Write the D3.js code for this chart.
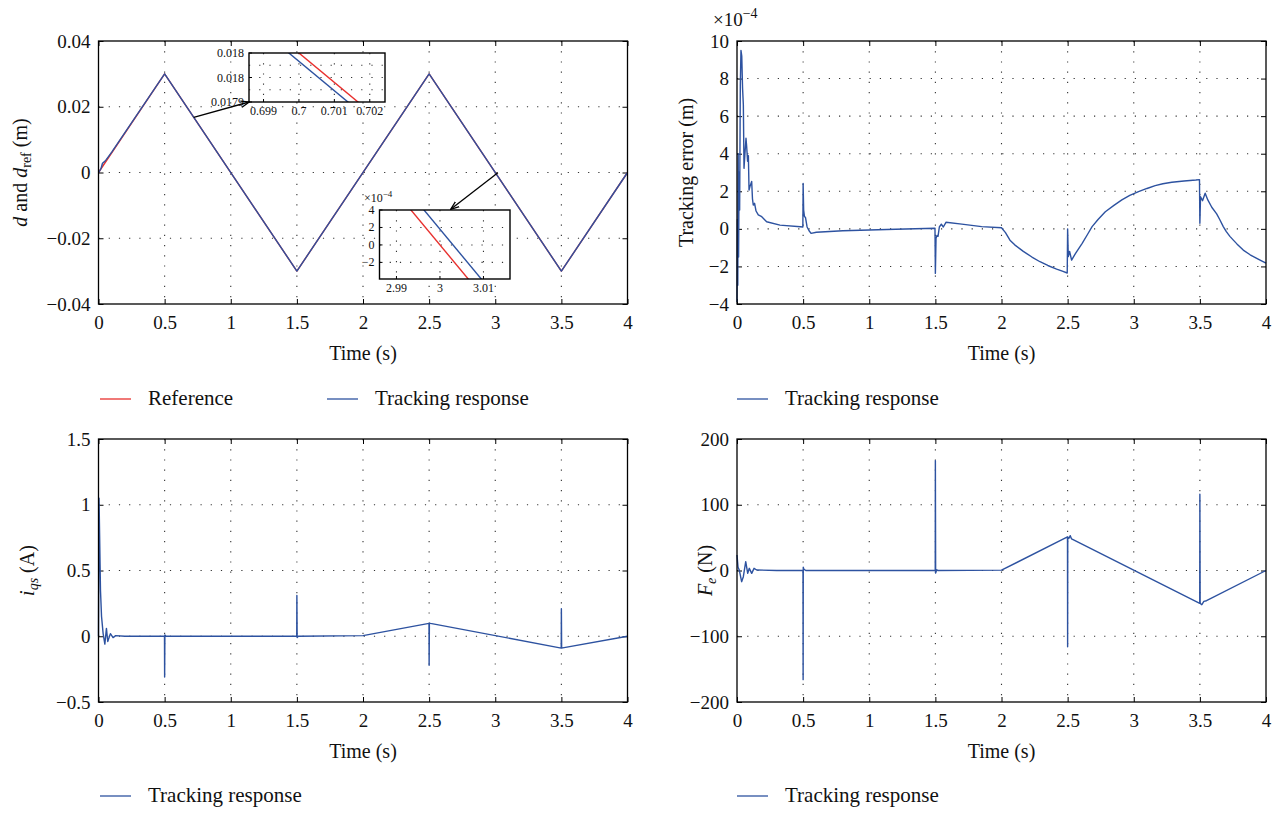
<!DOCTYPE html>
<html><head><meta charset="utf-8">
<script src="https://cdn.jsdelivr.net/npm/d3@7"></script>
<style>
body{margin:0;background:#fff}
text{font-family:"Liberation Serif","Times New Roman",serif;fill:#111}
</style>
</head><body>
<svg id="c" width="1279" height="814"></svg>
<script>
// ---------------- DATA ----------------
const timeTicks = [0, 0.5, 1, 1.5, 2, 2.5, 3, 3.5, 4];

// panel a: reference and tracking displacement (m)
const refT = [0, 0.5, 1.5, 2.5, 3.5, 4];
const refD = [0, 0.03, -0.03, 0.03, -0.03, 0];
const trkT = [0, 0.01, 0.02, 0.03, 0.045, 0.06, 0.1, 0.5, 1.5, 2.5, 3.5, 4];
const trkD = [0, 0.0006, 0.0013, 0.0028, 0.0033, 0.0040, 0.0062, 0.03, -0.03, 0.03, -0.03, 0];
const dTicks = [-0.04, -0.02, 0, 0.02, 0.04];

// inset A (around t = 0.7)
const insAxTicks = [0.699, 0.7, 0.701, 0.702];
const insAxLabels = ["0.699", "0.7", "0.701", "0.702"];
const insAyTicks = [0.0179, 0.01795, 0.018];
const insAyLabels = ["0.0179", "0.018", "0.018"];
const insAyGrid = [0.017925, 0.01795, 0.017975];
const insAT = [0.6985, 0.7025];
const insARef = [0.01809, 0.01785];
const insATrk = [0.018073, 0.017833];

// inset B (around t = 3), values in 1e-4 m
const insBxTicks = [2.99, 3, 3.01];
const insBxLabels = ["2.99", "3", "3.01"];
const insByTicks = [-2, 0, 2, 4];
const insBT = [2.985, 3.015];
const insBRef = [9, -9];
const insBTrk = [10.8, -7.2];

// panel b: tracking error (x 1e-4 m)
const errT = [0, 0.003, 0.006, 0.009, 0.012, 0.016, 0.02, 0.025, 0.03, 0.036, 0.042, 0.048, 0.053, 0.06, 0.068, 0.073, 0.08, 0.086, 0.091, 0.1, 0.111, 0.117, 0.123, 0.133, 0.144, 0.161, 0.187, 0.224, 0.325, 0.479, 0.498,
  0.5, 0.504, 0.51, 0.518, 0.53, 0.545, 0.56, 0.6, 0.8, 1.0, 1.2, 1.497,
  1.5, 1.505, 1.512, 1.52, 1.53, 1.545, 1.56, 1.58, 1.7, 1.85, 2.0,
  2.03, 2.064, 2.1, 2.165, 2.23, 2.291, 2.35, 2.417, 2.46, 2.497,
  2.5, 2.505, 2.515, 2.53, 2.56, 2.61, 2.65, 2.685, 2.73, 2.785, 2.85, 2.91, 2.97, 3.036, 3.1, 3.162, 3.22, 3.288, 3.38, 3.47, 3.497,
  3.5, 3.505, 3.52, 3.54, 3.56, 3.59, 3.627, 3.65, 3.677, 3.70, 3.727, 3.753, 3.78, 3.828, 3.88, 3.93, 3.97, 4.0];
const errV = [-3.9, 0.5, -3.0, 4.0, -1.5, 3.0, 1.0, 7.6, 9.5, 9.2, 7.5, 6.6, 3.22, 4.0, 4.82, 4.4, 3.6, 3.9, 2.07, 2.3, 2.52, 1.6, 1.27, 1.36, 0.95, 0.74, 0.65, 0.38, 0.2, 0.11, 0.1,
  2.42, 1.0, 0.66, 0.6, 0.1, -0.1, -0.24, -0.18, -0.1, -0.06, -0.02, 0.03,
  -2.37, -0.5, -0.35, -0.4, 0.1, 0.25, 0.1, 0.35, 0.25, 0.12, 0.06,
  -0.2, -0.6, -0.85, -1.2, -1.5, -1.75, -1.95, -2.14, -2.25, -2.35,
  0.0, -1.48, -1.2, -1.66, -1.3, -0.77, -0.3, 0.12, 0.5, 0.91, 1.25, 1.54, 1.78, 1.98, 2.15, 2.3, 2.4, 2.48, 2.55, 2.6, 2.62,
  0.3, 1.71, 1.5, 1.9, 1.54, 1.15, 0.8, 0.5, 0.12, -0.15, -0.4, -0.6, -0.8, -1.13, -1.38, -1.57, -1.72, -1.83];
const errTicks = [-4, -2, 0, 2, 4, 6, 8, 10];

// panel c: i_qs (A)
const iqsT = [0, 0.004, 0.015, 0.023, 0.035, 0.048, 0.06, 0.07, 0.09, 0.11, 0.13, 0.2, 0.499, 0.5, 0.502, 0.51, 1.0, 1.499, 1.5, 1.502, 1.51, 2.0, 2.499, 2.5, 2.502, 2.51, 3.499, 3.5, 3.502, 3.51, 4];
const iqsV = [0, 1.05, 0.35, 0.15, 0.02, -0.06, 0.06, -0.04, 0.02, -0.01, 0.005, 0, 0, -0.31, 0.01, 0, 0, 0, 0.31, -0.01, 0, 0.005, 0.098, -0.22, 0.1, 0.098, -0.09, 0.21, -0.09, -0.088, 0];
const iqsTicks = [-0.5, 0, 0.5, 1, 1.5];

// panel d: F_e (N)
const feT = [0, 0.008, 0.017, 0.035, 0.048, 0.066, 0.081, 0.093, 0.111, 0.129, 0.149, 0.3, 0.499, 0.5, 0.501, 0.505, 0.52, 1.0, 1.499, 1.5, 1.502, 1.51, 1.52, 2.0, 2.499, 2.5, 2.501, 2.51, 2.52, 2.53, 3.499, 3.5, 3.502, 3.515, 3.53, 3.55, 4];
const feV = [23.6, 5, 0.8, -17, -9.4, 13.4, -4.3, 3.3, -4.3, 3.3, 0.8, 0, 0, -166, 5, 2, 0, 0, 0, 167, -4, 1, 0, 0.5, 51, -116, 51, 49, 53, 48, -50, 116, -50, -52, -47, -46, 0];
const feTicks = [-200, -100, 0, 100, 200];

// ---------------- DRAWING ----------------
const RED = "#e8302e", BLUE = "#2d52a0";
const svg = d3.select("#c");
const defs = svg.append("defs");
defs.append("marker").attr("id", "arr").attr("viewBox", "0 0 10 10")
  .attr("refX", 9).attr("refY", 5).attr("markerWidth", 9).attr("markerHeight", 9)
  .attr("markerUnits", "userSpaceOnUse").attr("orient", "auto")
  .append("path").attr("d", "M0,1.5 L9.5,5 L0,8.5").attr("fill", "none").attr("stroke", "#000").attr("stroke-width", 1.4);

const fmt = d => d3.format("")(d).replace("-", "\u2212");
const pts = (T, V) => T.map((t, i) => [t, V[i]]);

function dotted(g, x1, y1, x2, y2) {
  g.append("line").attr("x1", x1).attr("y1", y1).attr("x2", x2).attr("y2", y2)
    .attr("stroke", "#333").attr("stroke-width", 1.1).attr("stroke-dasharray", "1.2,9");
}

function panel(o) {
  const g = svg.append("g");
  const x = d3.scaleLinear().domain([0, 4]).range([o.x0, o.x1]);
  const y = d3.scaleLinear().domain(o.ydom).range([o.y1, o.y0]);
  timeTicks.slice(1, -1).forEach(t => dotted(g, x(t), o.y0, x(t), o.y1));
  o.yticks.slice(1, -1).forEach(v => dotted(g, o.x0, y(v), o.x1, y(v)));
  const style = sel => {
    sel.attr("font-family", null).attr("font-size", null);
    sel.select(".domain").remove();
    sel.selectAll(".tick line").attr("stroke", "#000").attr("stroke-width", 1);
    sel.selectAll(".tick text").style("font-size", "19px");
  };
  g.append("g").attr("transform", `translate(0,${o.y1})`)
    .call(d3.axisBottom(x).tickValues(timeTicks).tickFormat(fmt).tickSizeInner(-5).tickSizeOuter(0).tickPadding(12)).call(style);
  g.append("g").attr("transform", `translate(0,${o.y0})`)
    .call(d3.axisTop(x).tickValues(timeTicks).tickFormat("").tickSizeInner(-5).tickSizeOuter(0)).call(style);
  g.append("g").attr("transform", `translate(${o.x0},0)`)
    .call(d3.axisLeft(y).tickValues(o.yticks).tickFormat(fmt).tickSizeInner(-5).tickSizeOuter(0).tickPadding(8)).call(style);
  g.append("g").attr("transform", `translate(${o.x1},0)`)
    .call(d3.axisRight(y).tickValues(o.yticks).tickFormat("").tickSizeInner(-5).tickSizeOuter(0)).call(style);
  const line = d3.line().x(d => x(d[0])).y(d => y(d[1]));
  o.series.forEach(s => {
    g.append("path").attr("d", line(s.data)).attr("fill", "none")
      .attr("stroke", s.color).attr("stroke-width", 1.4).attr("stroke-linejoin", "round");
  });
  g.append("rect").attr("x", o.x0).attr("y", o.y0).attr("width", o.x1 - o.x0).attr("height", o.y1 - o.y0)
    .attr("fill", "none").attr("stroke", "#000").attr("stroke-width", 1.3);
  g.append("text").attr("x", (o.x0 + o.x1) / 2).attr("y", o.y1 + 56).attr("text-anchor", "middle")
    .style("font-size", "20px").text("Time (s)");
  const yt = g.append("text").attr("transform", `translate(${o.ylabX},${(o.y0 + o.y1) / 2}) rotate(-90)`)
    .attr("text-anchor", "middle").style("font-size", "20px");
  o.ylab.forEach(p => {
    const ts = yt.append("tspan").text(p.t);
    if (p.i) ts.style("font-style", "italic");
    if (p.sub) ts.style("font-size", "14px").attr("dy", 4);
    if (p.after) ts.attr("dy", -4);
  });
  o.series.forEach((s, k) => {
    const lxStart = o.legX[k];
    g.append("line").attr("x1", lxStart).attr("x2", lxStart + 31).attr("y1", o.legY).attr("y2", o.legY)
      .attr("stroke", s.color).attr("stroke-width", 1.3);
    g.append("text").attr("x", lxStart + 48).attr("y", o.legY + 6).style("font-size", "21px").text(s.name);
  });
  return { x, y, g };
}

const A = panel({
  x0: 98.5, x1: 627.5, y0: 41, y1: 304, ydom: [-0.04, 0.04], yticks: dTicks, ylabX: 27,
  ylab: [{ t: "d", i: 1 }, { t: " and " }, { t: "d", i: 1 }, { t: "ref", sub: 1 }, { t: " (m)", after: 1 }],
  series: [{ name: "Reference", color: RED, data: pts(refT, refD) }, { name: "Tracking response", color: BLUE, data: pts(trkT, trkD) }],
  legY: 399, legX: [100, 327]
});
const B = panel({
  x0: 737, x1: 1266, y0: 41, y1: 304, ydom: [-4, 10], yticks: errTicks, ylabX: 693,
  ylab: [{ t: "Tracking error (m)" }],
  series: [{ name: "Tracking response", color: BLUE, data: pts(errT, errV) }],
  legY: 399, legX: [737]
});
const mult = svg.append("text").attr("x", 713).attr("y", 26).style("font-size", "19px");
mult.append("tspan").text("\u00d710");
mult.append("tspan").text("\u22124").attr("dy", -8).style("font-size", "14px");
const C = panel({
  x0: 98.5, x1: 627.5, y0: 439, y1: 702, ydom: [-0.5, 1.5], yticks: iqsTicks, ylabX: 34,
  ylab: [{ t: "i", i: 1 }, { t: "qs", i: 1, sub: 1 }, { t: " (A)", after: 1 }],
  series: [{ name: "Tracking response", color: BLUE, data: pts(iqsT, iqsV) }],
  legY: 796, legX: [100]
});
const D = panel({
  x0: 737, x1: 1266, y0: 439, y1: 702, ydom: [-200, 200], yticks: feTicks, ylabX: 712,
  ylab: [{ t: "F", i: 1 }, { t: "e", i: 1, sub: 1 }, { t: " (N)", after: 1 }],
  series: [{ name: "Tracking response", color: BLUE, data: pts(feT, feV) }],
  legY: 796, legX: [737]
});

// ---------------- INSETS ----------------
function inset(o) {
  const g = svg.append("g");
  const x = d3.scaleLinear().domain(o.xdom).range([o.x0, o.x1]);
  const y = d3.scaleLinear().domain(o.ydom).range([o.y1, o.y0]);
  const id = "clip" + o.id;
  defs.append("clipPath").attr("id", id).append("rect")
    .attr("x", o.x0).attr("y", o.y0).attr("width", o.x1 - o.x0).attr("height", o.y1 - o.y0);
  g.append("rect").attr("x", o.x0).attr("y", o.y0).attr("width", o.x1 - o.x0).attr("height", o.y1 - o.y0).attr("fill", "#fff");
  o.xticks.forEach(t => dotted(g, x(t), o.y0, x(t), o.y1));
  o.ygrid.forEach(v => dotted(g, o.x0, y(v), o.x1, y(v)));
  const line = d3.line().x(d => x(d[0])).y(d => y(d[1]));
  o.series.forEach(s => g.append("path").attr("d", line(s.data)).attr("clip-path", `url(#${id})`)
    .attr("fill", "none").attr("stroke", s.color).attr("stroke-width", 1.4));
  g.append("rect").attr("x", o.x0).attr("y", o.y0).attr("width", o.x1 - o.x0).attr("height", o.y1 - o.y0)
    .attr("fill", "none").attr("stroke", "#000").attr("stroke-width", 1.4);
  o.xticks.forEach((t, i) => {
    g.append("line").attr("x1", x(t)).attr("x2", x(t)).attr("y1", o.y1).attr("y2", o.y1 - 3).attr("stroke", "#000");
    g.append("text").attr("x", x(t)).attr("y", o.y1 + 13).attr("text-anchor", "middle").style("font-size", "12px").text(o.xlabels[i]);
  });
  o.yticks.forEach((v, i) => {
    g.append("line").attr("x1", o.x0).attr("x2", o.x0 + 3).attr("y1", y(v)).attr("y2", y(v)).attr("stroke", "#000");
    g.append("text").attr("x", o.x0 - 5).attr("y", y(v) + 4).attr("text-anchor", "end").style("font-size", "12px").text(o.ylabels[i]);
  });
  return { x, y, g };
}

const IA = inset({
  id: "A", x0: 249, x1: 385, y0: 53, y1: 102, xdom: [0.69859, 0.70243], ydom: [0.0179, 0.018],
  xticks: insAxTicks, xlabels: insAxLabels, yticks: insAyTicks, ylabels: insAyLabels, ygrid: insAyGrid,
  series: [{ color: RED, data: pts(insAT, insARef) }, { color: BLUE, data: pts(insAT, insATrk) }]
});
const IB = inset({
  id: "B", x0: 379.5, x1: 510, y0: 210, y1: 279, xdom: [2.9861, 3.0161], ydom: [-3.9, 4],
  xticks: insBxTicks, xlabels: insBxLabels, yticks: insByTicks, ylabels: insByTicks.map(fmt), ygrid: insByTicks.slice(0, 3),
  series: [{ color: RED, data: pts(insBT, insBRef) }, { color: BLUE, data: pts(insBT, insBTrk) }]
});
const m2 = svg.append("text").attr("x", 364).attr("y", 202).style("font-size", "12px");
m2.append("tspan").text("\u00d710");
m2.append("tspan").text("\u22124").attr("dy", -5).style("font-size", "9px");

svg.append("line").attr("x1", A.x(0.72)).attr("y1", A.y(0.0168)).attr("x2", 249).attr("y2", 102)
  .attr("stroke", "#000").attr("stroke-width", 1.3).attr("marker-end", "url(#arr)");
svg.append("line").attr("x1", A.x(3.02)).attr("y1", A.y(-0.0001)).attr("x2", 451).attr("y2", 209)
  .attr("stroke", "#000").attr("stroke-width", 1.3).attr("marker-end", "url(#arr)");
</script>
</body></html>
